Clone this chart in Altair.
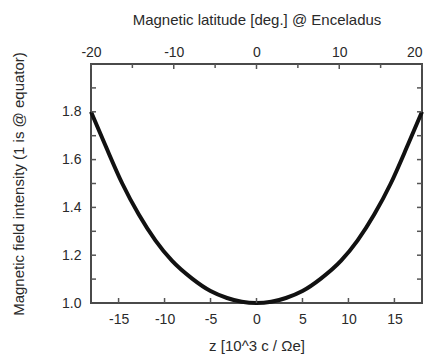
import altair as alt
import pandas as pd

# Curve
z_vals = [-18.0, -16.5, -14.6, -12.8, -11.0, -9.2, -7.0, -5.0, -3.2, -1.6, 0.0,
          1.6, 3.2, 5.0, 7.0, 9.2, 11.0, 12.8, 14.6, 16.5, 18.0]
b_vals = [1.80, 1.665, 1.50, 1.37, 1.262, 1.177, 1.102, 1.050, 1.021, 1.005, 1.0,
          1.005, 1.021, 1.050, 1.102, 1.177, 1.262, 1.37, 1.50, 1.665, 1.80]

z_ticks = [-15, -10, -5, 0, 5, 10, 15]
lat_major = [-20, -10, 0, 10, 20]
lat_minor = [-15, -5, 5, 15]
y_labels = [1.0, 1.2, 1.4, 1.6, 1.8]
y_ticks = [1.1, 1.2, 1.3, 1.4, 1.5, 1.6, 1.7, 1.8, 1.9]

W, H = 331, 239
FONT = "Liberation Sans"
TXT = "#2a2a2a"
TICK = "#555555"
HYPHEN = "datum.value < 0 ? '-' + abs(datum.value) : '' + datum.value"

xs = alt.Scale(domain=[-18, 18], nice=False, zero=False)
ls = alt.Scale(domain=[-20, 20], nice=False, zero=False)
ys = alt.Scale(domain=[1.0, 2.0], nice=False, zero=False)

x_axis = alt.Axis(values=z_ticks, title="z [10^3 c / Ωe]", ticks=False, domain=False,
                  grid=False, labelPadding=9, titlePadding=12, labelFlush=False,
                  labelExpr=HYPHEN)
y_axis = alt.Axis(values=y_labels, format=".1f", title="Magnetic field intensity (1 is @ equator)",
                  ticks=False, domain=False, grid=False, labelPadding=10, titlePadding=35,
                  labelFlush=False)
top_axis = alt.Axis(orient="top", values=lat_major, title="Magnetic latitude [deg.] @ Enceladus",
                    ticks=False, domain=False, grid=False, labelPadding=5, titlePadding=18,
                    labelFlush=False, labelExpr=HYPHEN,
                    labelAlign={"condition": {"test": "datum.value == 20", "value": "right"},
                                "value": "center"})

df = pd.DataFrame({"z": z_vals, "b": b_vals})

line = alt.Chart(df).mark_line(color="#111111", strokeWidth=4, interpolate="monotone").encode(
    x=alt.X("z:Q", scale=xs, axis=x_axis),
    y=alt.Y("b:Q", scale=ys, axis=y_axis),
)

bottom_ticks = alt.Chart(pd.DataFrame({"z": z_ticks})).mark_rule(color=TICK, strokeWidth=1.5).encode(
    x=alt.X("z:Q", scale=xs, axis=x_axis),
    y=alt.value(H), y2=alt.value(H - 5),
)

left_ticks = alt.Chart(pd.DataFrame({"b": y_ticks})).mark_rule(color=TICK, strokeWidth=1.5).encode(
    y=alt.Y("b:Q", scale=ys, axis=y_axis),
    x=alt.value(0), x2=alt.value(5),
)

right_ticks = alt.Chart(pd.DataFrame({"b": y_ticks})).mark_rule(color=TICK, strokeWidth=1.5).encode(
    y=alt.Y("b:Q", scale=ys, axis=y_axis),
    x=alt.value(W), x2=alt.value(W - 5),
)

top_major = alt.Chart(pd.DataFrame({"lat": lat_major})).mark_rule(color=TICK, strokeWidth=1.5).encode(
    x=alt.X("lat:Q", scale=ls, axis=top_axis),
    y=alt.value(0), y2=alt.value(5),
)

top_minor = alt.Chart(pd.DataFrame({"lat": lat_minor})).mark_rule(color=TICK, strokeWidth=1.5).encode(
    x=alt.X("lat:Q", scale=ls, axis=top_axis),
    y=alt.value(0), y2=alt.value(4),
)

chart = alt.layer(
    alt.layer(line, bottom_ticks, left_ticks, right_ticks),
    alt.layer(top_major, top_minor),
).resolve_scale(x="independent").properties(
    width=W, height=H,
    autosize=alt.AutoSizeParams(type="none"),
    padding={"left": 83, "top": 56, "right": 2, "bottom": 52},
).configure_view(
    stroke="#4a4a4a", strokeWidth=2
).configure_axis(
    labelFont=FONT, titleFont=FONT, labelFontSize=14, titleFontSize=15,
    labelColor=TXT, titleColor=TXT, titleFontWeight="normal",
)

chart.save("out.html", embed_options={"renderer": "svg", "actions": False})
